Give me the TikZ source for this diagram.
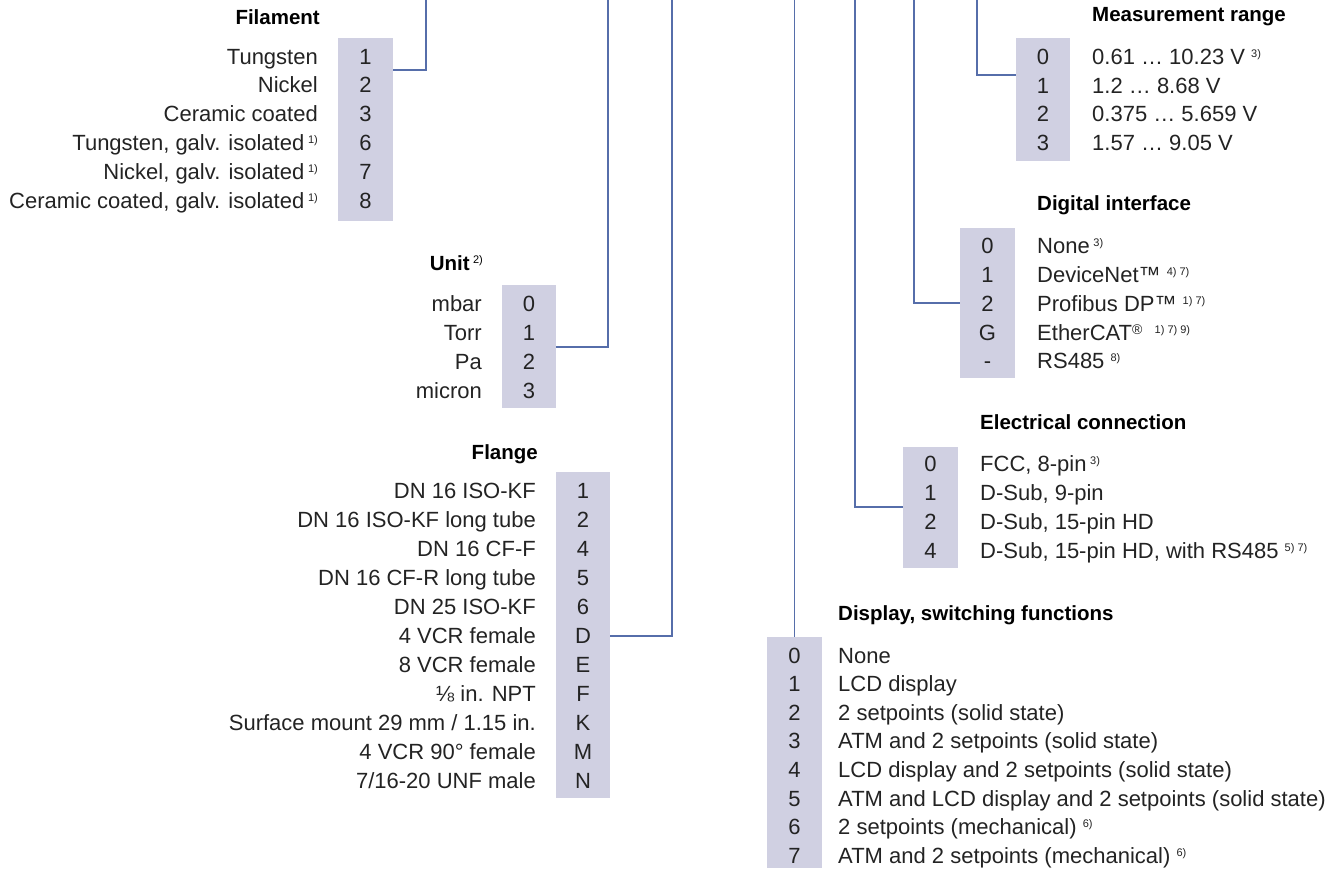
\documentclass[tikz,border=0pt]{standalone}
\usepackage{fontspec}
\setmainfont{Liberation Sans}
\definecolor{boxc}{RGB}{208,208,226}
\definecolor{linec}{RGB}{86,110,170}
\definecolor{txtc}{RGB}{35,35,35}
\newcommand{\sups}[1]{\raisebox{7pt}{\fontsize{11}{12}\selectfont #1}}
\newcommand{\regm}{\raisebox{6pt}{\fontsize{14}{14}\selectfont ®}}
\begin{document}
\begin{tikzpicture}[x=1pt,y=-1pt,
  box/.style={fill=boxc, draw=none, inner sep=0pt, minimum width=55pt},
  conn/.style={draw=linec, line width=1.3pt},
  lab/.style={font=\fontsize{22}{26}\selectfont, text=txtc, inner sep=0pt, yshift=-8pt},
  le/.style={lab, anchor=base east},
  lw/.style={lab, anchor=base west},
  dig/.style={lab, anchor=base},
  ttl/.style={font=\fontsize{20.5}{24}\selectfont\bfseries, text=black, inner sep=0pt, yshift=-7.3pt},
  ttle/.style={ttl, anchor=base east},
  ttlw/.style={ttl, anchor=base west}]
\useasboundingbox (0,0) rectangle (1341,868);

% ---------- boxes ----------
\node[box, minimum height=183pt] (fil) at (365.5,129.5) {};
\node[box, minimum height=123pt, minimum width=54pt] (uni) at (529,346.5) {};
\node[box, minimum height=326pt, minimum width=54pt] (fla) at (583,635) {};
\node[box, minimum height=231pt] (dis) at (794.5,752.5) {};
\node[box, minimum height=121pt] (ele) at (930.5,507.5) {};
\node[box, minimum height=150pt] (dgi) at (987.5,303) {};
\node[box, minimum height=123pt, minimum width=54pt] (mea) at (1043,99.5) {};

% ---------- Filament ----------
\node[ttle] (tfilament) at (320,17) {Filament};
\node[le] (fl1) at (318,56) {Tungsten};
\node[le] (fl2) at (318,84.8) {Nickel};
\node[le] (fl3) at (318,113.6) {Ceramic coated};
\node[le] (fl4) at (318,142.4) {Tungsten, galv. isolated\,\sups{1)}};
\node[le] (fl5) at (318,171.2) {Nickel, galv. isolated\,\sups{1)}};
\node[le] (fl6) at (318,200) {Ceramic coated, galv. isolated\,\sups{1)}};
\node[dig] (fd1) at (365.5,56) {1};
\node[dig] (fd2) at (365.5,84.8) {2};
\node[dig] (fd3) at (365.5,113.6) {3};
\node[dig] (fd4) at (365.5,142.4) {6};
\node[dig] (fd5) at (365.5,171.2) {7};
\node[dig] (fd6) at (365.5,200) {8};

% ---------- Unit ----------
\node[ttle] (tunit) at (483,263) {Unit\,\sups{\mdseries 2)}};
\node[le] (ul1) at (482,303) {mbar};
\node[le] (ul2) at (482,332) {Torr};
\node[le] (ul3) at (482,361) {Pa};
\node[le] (ul4) at (482,390) {micron};
\node[dig] (ud1) at (529,303) {0};
\node[dig] (ud2) at (529,332) {1};
\node[dig] (ud3) at (529,361) {2};
\node[dig] (ud4) at (529,390) {3};

% ---------- Flange ----------
\node[ttle] (tflange) at (538,452) {Flange};
\foreach \t/\d [count=\i from 0] in {DN 16 ISO-KF/1, DN 16 ISO-KF long tube/2, DN 16 CF-F/4, DN 16 CF-R long tube/5, DN 25 ISO-KF/6, 4 VCR female/D, 8 VCR female/E, ⅛ in. NPT/F}
  {\node[le] (gl\i) at (536,490+29*\i) {\t};
   \node[dig] (gd\i) at (583,490+29*\i) {\d};}
\node[le] (gl8) at (536,722) {Surface mount 29 mm / 1.15 in.};
\node[dig] (gd8) at (583,722) {K};
\node[le] (gl9) at (536,751) {4 VCR 90° female};
\node[dig] (gd9) at (583,751) {M};
\node[le] (gl10) at (536,780) {7/16-20 UNF male};
\node[dig] (gd10) at (583,780) {N};

% ---------- Measurement range ----------
\node[ttlw] (tmeas) at (1092,14) {Measurement range};
\node[lw] (ml1) at (1092,56) {0.61 … 10.23 V \sups{3)}};
\node[lw] (ml2) at (1092,85) {1.2 … 8.68 V};
\node[lw] (ml3) at (1092,113) {0.375 … 5.659 V};
\node[lw] (ml4) at (1092,142) {1.57 … 9.05 V};
\node[dig] (md1) at (1043,56) {0};
\node[dig] (md2) at (1043,85) {1};
\node[dig] (md3) at (1043,113) {2};
\node[dig] (md4) at (1043,142) {3};

% ---------- Digital interface ----------
\node[ttlw] (tdig) at (1037,203) {Digital interface};
\node[lw] (dl1) at (1037,245) {None\,\sups{3)}};
\node[lw] (dl2) at (1037,274) {DeviceNet™ \sups{4) 7)}};
\node[lw] (dl3) at (1037,303) {Profibus DP™ \sups{1) 7)}};
\node[lw] (dl4) at (1037,332) {EtherCAT\regm\ \ \sups{1) 7) 9)}};
\node[lw] (dl5) at (1037,360) {RS485 \sups{8)}};
\node[dig] (dd1) at (987.5,245) {0};
\node[dig] (dd2) at (987.5,274) {1};
\node[dig] (dd3) at (987.5,303) {2};
\node[dig] (dd4) at (987.5,332) {G};
\node[dig] (dd5) at (987.5,360) {-};

% ---------- Electrical connection ----------
\node[ttlw] (telec) at (980,422) {Electrical connection};
\node[lw] (el1) at (980,463) {FCC, 8-pin\,\sups{3)}};
\node[lw] (el2) at (980,492) {D-Sub, 9-pin};
\node[lw] (el3) at (980,521) {D-Sub, 15-pin HD};
\node[lw] (el4) at (980,550) {D-Sub, 15-pin HD, with RS485 \sups{5) 7)}};
\node[dig] (ed1) at (930.5,463) {0};
\node[dig] (ed2) at (930.5,492) {1};
\node[dig] (ed3) at (930.5,521) {2};
\node[dig] (ed4) at (930.5,550) {4};

% ---------- Display ----------
\node[ttlw] (tdisp) at (838,613) {Display, switching functions};
\foreach \t/\d [count=\i from 0] in {None/0, LCD display/1, 2 setpoints (solid state)/2, ATM and 2 setpoints (solid state)/3, LCD display and 2 setpoints (solid state)/4, ATM and LCD display and 2 setpoints (solid state)/5, 2 setpoints (mechanical) \sups{6)}/6, ATM and 2 setpoints (mechanical) \sups{6)}/7}
  {\node[lw] (sl\i) at (838,655+28.6*\i) {\t};
   \node[dig] (sd\i) at (794.5,655+28.6*\i) {\d};}

% ---------- connectors ----------
\coordinate (tfil) at (426,0);   \coordinate (jfil) at (426,70);
\coordinate (tuni) at (608,0);   \coordinate (juni) at (608,347);
\coordinate (tfla) at (672,0);   \coordinate (jfla) at (672,636);
\coordinate (tdis) at (794.5,0);
\coordinate (tele) at (855,0);   \coordinate (jele) at (855,507);
\coordinate (tdgi) at (914,0);   \coordinate (jdgi) at (914,303);
\coordinate (tmea) at (977,0);   \coordinate (jmea) at (977,75);

\draw[conn] (fil.east |- jfil) -- (jfil) -- (tfil);
\draw[conn] (uni.east |- juni) -- (juni) -- (tuni);
\draw[conn] (fla.east |- jfla) -- (jfla) -- (tfla);
\draw[conn] (tdis) -- (dis.north);
\draw[conn] (ele.west |- jele) -- (jele) -- (tele);
\draw[conn] (dgi.west |- jdgi) -- (jdgi) -- (tdgi);
\draw[conn] (mea.west |- jmea) -- (jmea) -- (tmea);
\end{tikzpicture}
\end{document}
